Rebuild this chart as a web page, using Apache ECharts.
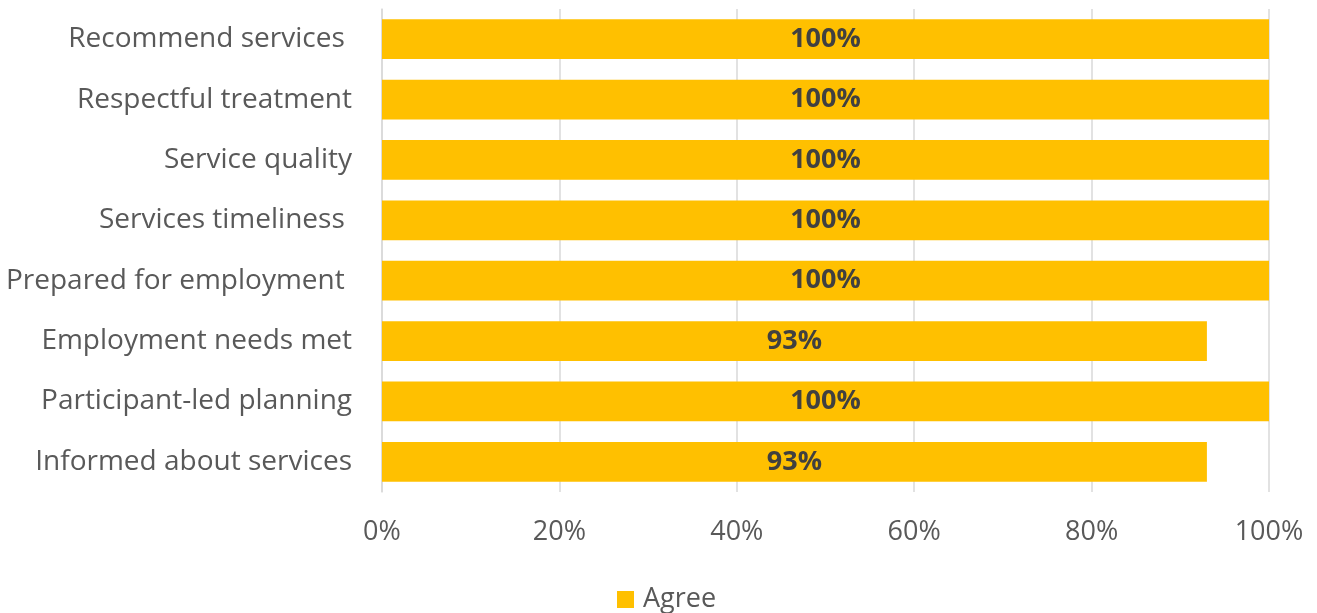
<!DOCTYPE html>
<html>
<head>
<meta charset="utf-8">
<script src="https://cdn.jsdelivr.net/npm/echarts@6/dist/echarts.min.js"></script>
<style>
  html, body { margin: 0; padding: 0; background: #fff; }
  #chart { width: 1317px; height: 613px; }
</style>
</head>
<body>
<div id="chart"></div>
<script>
// Survey items, listed top to bottom
const categories = [
  'Recommend services ',
  'Respectful treatment',
  'Service quality',
  'Services timeliness ',
  'Prepared for employment ',
  'Employment needs met',
  'Participant-led planning',
  'Informed about services'
];
// Share of participants who agree (%)
const agreeValues = [100, 100, 100, 100, 100, 93, 100, 93];
const xTicks = [0, 20, 40, 60, 80, 100];

const FONT = '"Open Sans", "Noto Sans", sans-serif';

const chart = echarts.init(document.getElementById('chart'), null, { renderer: 'canvas' });
chart.setOption({
  animation: false,
  backgroundColor: '#ffffff',
  grid: { left: 382, right: 48, top: 9, bottom: 121, containLabel: false },
  legend: {
    data: ['Agree'],
    bottom: -5,
    left: 612,
    itemWidth: 17,
    itemHeight: 17,
    icon: 'rect',
    itemGap: 9,
    textStyle: { fontFamily: FONT, fontSize: 27, color: '#595959', padding: [0, 0, 0, 4] }
  },
  xAxis: {
    type: 'value',
    min: xTicks[0],
    max: xTicks[xTicks.length - 1],
    interval: 20,
    axisLine: { show: false },
    axisTick: { show: false },
    splitLine: { show: true, lineStyle: { color: '#d9d9d9', width: 1.5 } },
    axisLabel: {
      margin: 27,
      fontFamily: FONT,
      fontSize: 27,
      color: '#595959',
      formatter: v => v + '%'
    }
  },
  yAxis: {
    type: 'category',
    data: categories,
    inverse: true,
    axisLine: { show: true, lineStyle: { color: '#d9d9d9', width: 1.5 } },
    axisTick: { show: false },
    axisLabel: {
      margin: 30,
      fontFamily: FONT,
      fontSize: 28,
      color: '#595959',
      padding: [7, 0, 0, 0]
    }
  },
  series: [{
    name: 'Agree',
    type: 'bar',
    data: agreeValues,
    barCategoryGap: '34%',
    itemStyle: { color: '#FFC000' },
    label: {
      show: true,
      position: 'inside',
      fontFamily: FONT,
      fontSize: 27,
      fontWeight: 'bold',
      color: '#404040',
      padding: [3, 0, 0, 0],
      formatter: p => p.value + '%'
    }
  }]
});
</script>
</body>
</html>
